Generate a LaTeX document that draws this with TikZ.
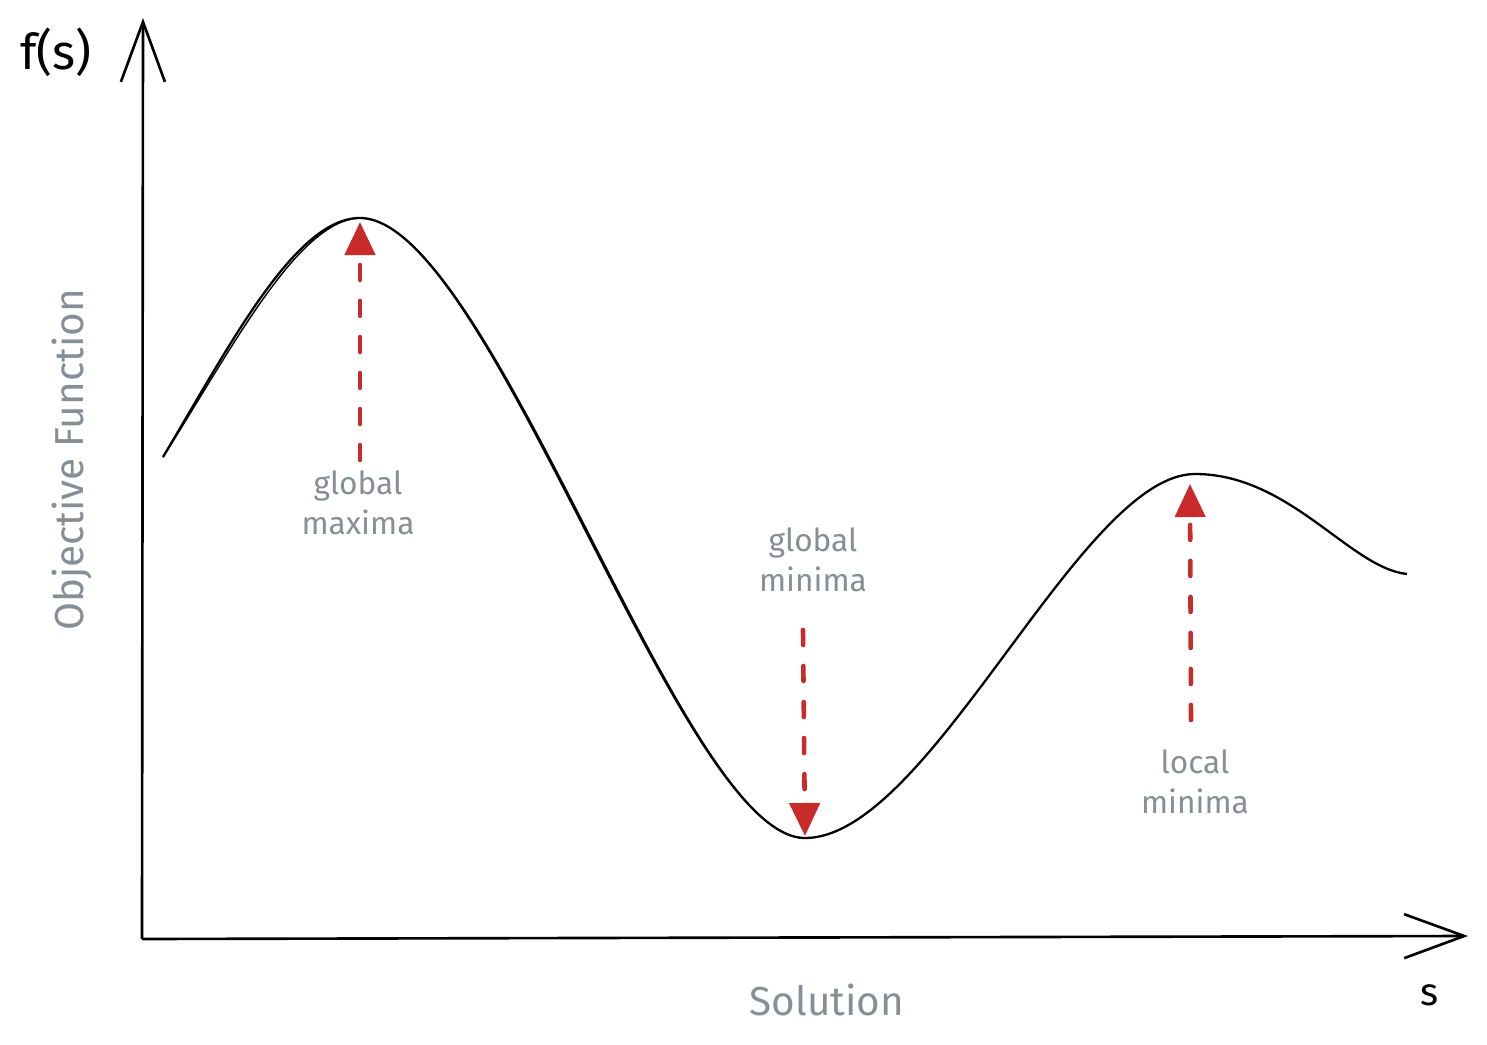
\documentclass[tikz,border=0pt]{standalone}
\usepackage{fontspec}
\setmainfont{Fira Sans}
\usetikzlibrary{arrows.meta}
\definecolor{penred}{HTML}{C92A2A}
\definecolor{inkgray}{HTML}{868E96}

\tikzset{
  axis/.style={line width=0.75pt,-{Straight Barb[length=6mm,width=4.4mm]}},
  curve/.style={line width=0.65pt},
  marker/.style={draw=penred,line width=1.3pt,line cap=round,
    dash pattern=on 1.5mm off 2.1mm,-{Triangle[length=3.3mm,width=3mm,fill=penred]}},
  annot/.style={text=inkgray,align=center,font=\fontsize{9}{11.5}\selectfont},
  axistitle/.style={text=inkgray,font=\fontsize{11.5}{13}\selectfont},
  axisname/.style={font=\fontsize{14}{16}\selectfont}
}

\begin{document}
\begin{tikzpicture}[x=0.01cm,y=-0.01cm]
\useasboundingbox (0,0) rectangle (1487,1045);
% axes
\coordinate (origin) at (142,939);
\coordinate (ytop) at (143,18);
\coordinate (xend) at (1468,936);
\draw[axis] (origin) -- (ytop);
\draw[axis] (origin) -- (xend);
\node[axisname] (fs) at (56,52) {f(s)};
\node[axisname,font=\fontsize{11}{13}\selectfont] (sname) at (1430,995) {s};
\node[axistitle] (soln) at (827,1000) {Solution};
\node[axistitle,rotate=90] (objfn) at (72,460) {Objective Function};
% the objective curve
\coordinate (start) at (163,457);
\coordinate (gmax) at (360,218);
\coordinate (gmin) at (805,838);
\coordinate (lmax) at (1195,474);
\coordinate (finish) at (1407,574);
\draw[curve] (start) .. controls (230,345) and (295,218) .. (gmax)
  .. controls (490,218) and (680,838) .. (gmin)
  .. controls (930,838) and (1080,474) .. (lmax)
  .. controls (1290,474) and (1350,568) .. (finish);
\draw[curve,line width=0.4pt,shift={(3,2)}] (start) .. controls (230,345) and (295,218) .. (gmax)
  .. controls (490,218) and (680,838) .. (gmin);
% markers
\coordinate (maxfoot) at (360,460);
\coordinate (maxtip) at (360,222);
\coordinate (minfoot) at (803,630);
\coordinate (mintip) at (805,836);
\coordinate (locfoot) at (1191,720);
\coordinate (loctip) at (1190,484);
\draw[marker] (maxfoot) -- (maxtip);
\draw[marker] (minfoot) -- (mintip);
\draw[marker] (locfoot) -- (loctip);
\node[annot] (maxnote) at (358,503) {global\\maxima};
\node[annot] (minnote) at (813,560) {global\\minima};
\node[annot] (locnote) at (1195,782) {local\\minima};
\end{tikzpicture}
\end{document}
